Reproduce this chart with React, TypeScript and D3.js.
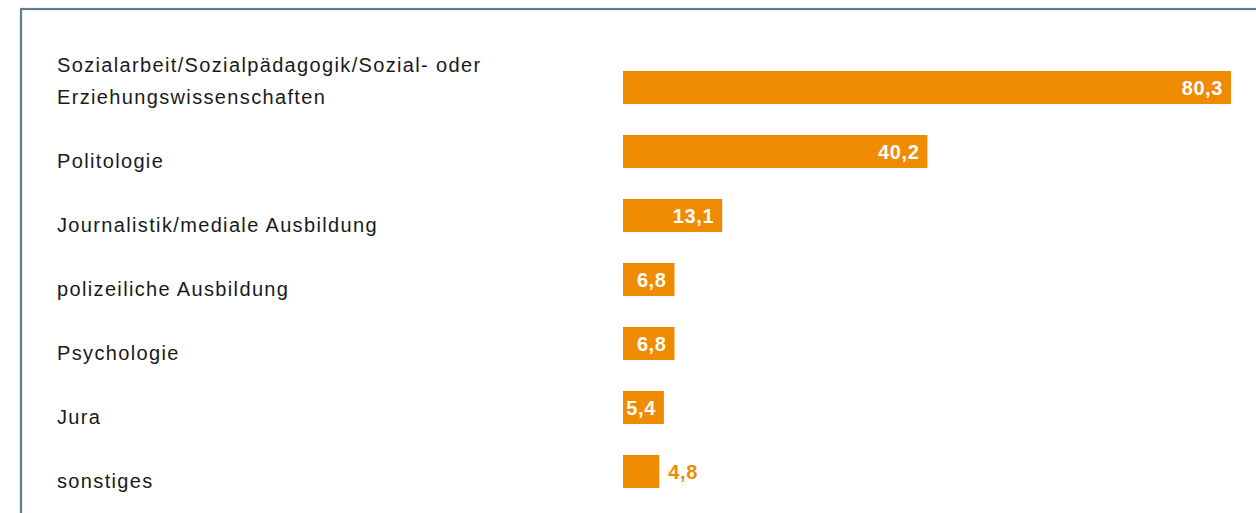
import React from "react";
import * as d3 from "d3";

const categories: string[][] = [
  ["Sozialarbeit/Sozialpädagogik/Sozial- oder", "Erziehungswissenschaften"],
  ["Politologie"],
  ["Journalistik/mediale Ausbildung"],
  ["polizeiliche Ausbildung"],
  ["Psychologie"],
  ["Jura"],
  ["sonstiges"],
];
const values: number[] = [80.3, 40.2, 13.1, 6.8, 6.8, 5.4, 4.8];

const fmt = (v: number) => d3.format(".1f")(v).replace(".", ",");

export default function App() {
  const W = 1256;
  const H = 513;
  const keys = categories.map((c) => c.join(" "));
  const x = d3.scaleLinear().domain([0, 80.3]).range([623, 1231]);
  const y = d3
    .scaleBand<string>()
    .domain(keys)
    .range([71, 71 + 6 * 64 + 33])
    .paddingInner(31 / 64)
    .paddingOuter(0);
  const bw = y.bandwidth();
  const font = "'Liberation Sans', Arial, Helvetica, sans-serif";
  return (
    <svg
      width={W}
      height={H}
      style={{ position: "absolute", left: 0, top: 0, display: "block" }}
    >
      <rect x={0} y={0} width={W} height={H} fill="#fff" />
      <rect
        x={21}
        y={9}
        width={W + 20}
        height={H + 20}
        fill="none"
        stroke="#5e7e91"
        strokeWidth={2.2}
      />
      {values.map((v, i) => {
        const k = keys[i];
        const y0 = y(k)!;
        const x0 = x(0);
        const x1 = x(v);
        const w = x1 - x0;
        const inside = w >= 40;
        const lines = categories[i];
        const bottom = y0 + bw;
        return (
          <g key={k}>
            <rect x={x0} y={y0} width={w} height={bw} fill="#ef8b00" />
            <text
              x={inside ? x1 - 8 : x1 + 9}
              y={y0 + bw / 2 + 7.5}
              textAnchor={inside ? "end" : "start"}
              fontFamily={font}
              fontWeight="bold"
              fontSize={20}
              letterSpacing={0.6}
              fill={inside ? "#ffffff" : "#ef8b00"}
            >
              {fmt(v)}
            </text>
            {lines.map((ln, j) => (
              <text
                key={j}
                x={57}
                y={bottom - (lines.length - 1 - j) * 32 - 0.5}
                fontFamily={font}
                fontSize={20}
                letterSpacing={1.35}
                fill="#1a1a1a"
              >
                {ln}
              </text>
            ))}
          </g>
        );
      })}
    </svg>
  );
}
